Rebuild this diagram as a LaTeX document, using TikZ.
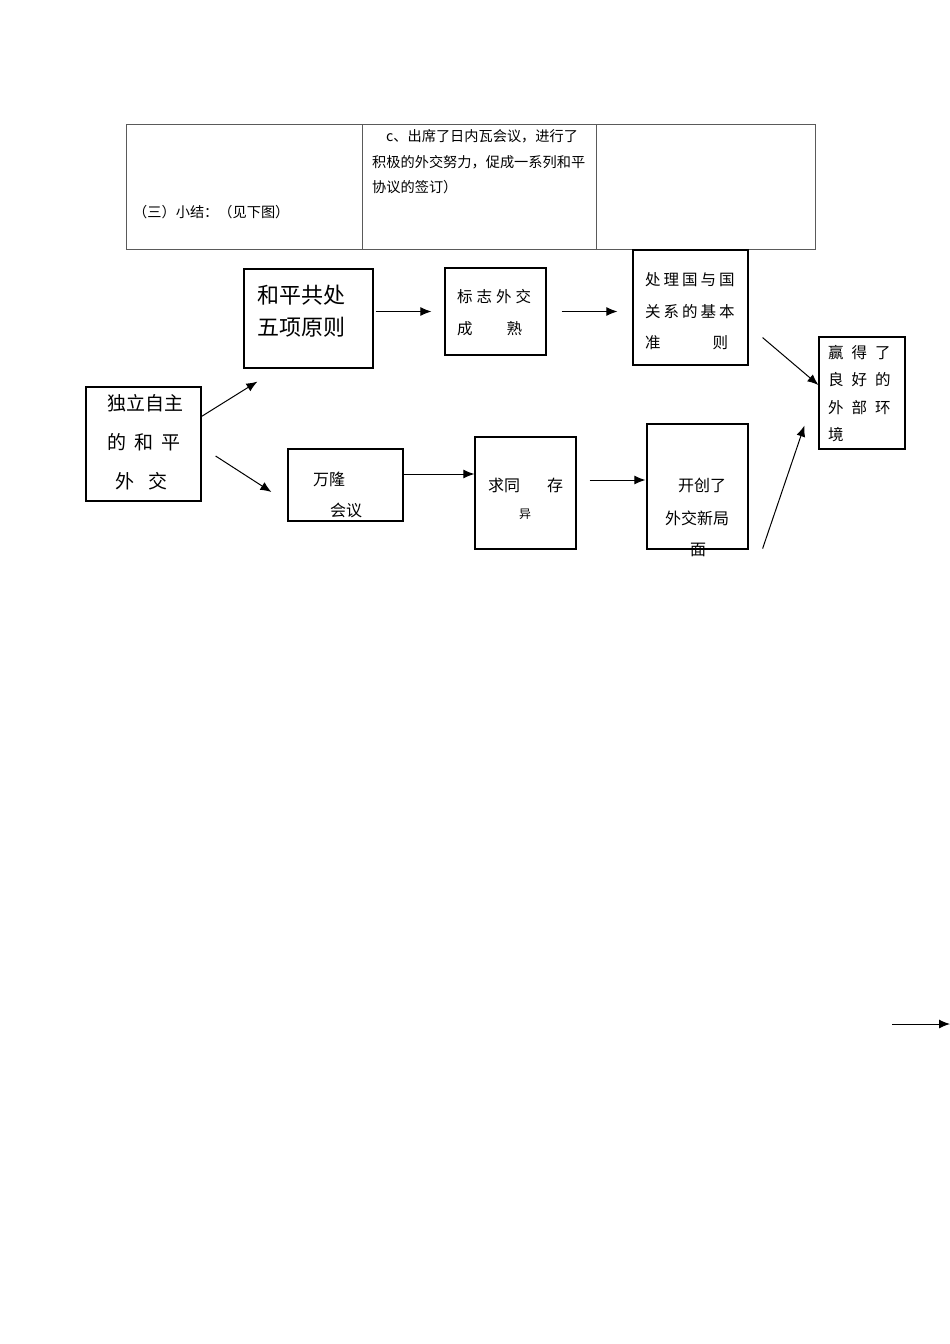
\documentclass[tikz,border=0pt]{standalone}
\usepackage{fontspec}
\setmainfont{Noto Sans CJK SC}
\usetikzlibrary{arrows.meta,calc}
\definecolor{tblgray}{RGB}{90,90,90}

\begin{document}
\begin{tikzpicture}[x=1pt,y=-1pt,
    box/.style={draw,line width=1.2pt,inner sep=0pt},
    txt/.style={anchor=west,inner sep=0pt},
    arr/.style={-{Latex[length=11pt,width=9pt]},line width=1pt},
    fa/.style={font=\fontsize{14.2pt}{16pt}\selectfont},
    fb/.style={font=\fontsize{15.5pt}{18pt}\selectfont},
    fc/.style={font=\fontsize{16pt}{18pt}\selectfont},
    fd/.style={font=\fontsize{19pt}{22pt}\selectfont},
    fe/.style={font=\fontsize{22pt}{25pt}\selectfont}]
  \useasboundingbox (0,0) rectangle (950,1344);
  % table on top
  \draw[tblgray,line width=1pt] (126,124) rectangle (815,249)
    (362,124) -- (362,249) (596,124) -- (596,249);
  \node[txt,fa] (sum) at (133,212) {（三）小结：（见下图）};
  \node[txt,fa] (gen1) at (386,136) {c、出席了日内瓦会议，进行了};
  \node[txt,fa] (gen2) at (372,162) {积极的外交努力，促成一系列和平};
  \node[txt,fa] (gen3) at (372,187) {协议的签订）};
  % boxes
  \node[box,minimum width=115pt,minimum height=114pt] (dl) at (143.5,444) {};
  \node[box,minimum width=129pt,minimum height=99pt] (hp) at (308.5,318.5) {};
  \node[box,minimum width=101pt,minimum height=87pt] (bz) at (495.5,311.5) {};
  \node[box,minimum width=115pt,minimum height=115pt] (cl) at (690.5,307.5) {};
  \node[box,minimum width=86pt,minimum height=112pt] (yd) at (862,393) {};
  \node[box,minimum width=115pt,minimum height=72pt] (wl) at (345.5,485) {};
  \node[box,minimum width=101pt,minimum height=112pt] (qt) at (525.5,493) {};
  \node[box,minimum width=101pt,minimum height=125pt] (kc) at (697.5,486.5) {};
  % box texts
  \node[txt,fd] (dl1) at (107,403) {独立自主};
  \node[txt,fd] (dl2) at (107,442) {的\hspace{8pt}和\hspace{8pt}平};
  \node[txt,fd] (dl3) at (115,481) {外\hspace{14pt}交};
  \node[txt,fe] (hp1) at (257,295) {和平共处};
  \node[txt,fe] (hp2) at (257,327) {五项原则};
  \node[txt,fb] (bz1) at (457,297) {标\hspace{4pt}志\hspace{4pt}外\hspace{4pt}交};
  \node[txt,fb] (bz2) at (457,329) {成\hspace{34pt}熟};
  \node[txt,fb] (cl1) at (645,280) {处\hspace{3pt}理\hspace{3pt}国\hspace{3pt}与\hspace{3pt}国};
  \node[txt,fb] (cl2) at (645,312) {关\hspace{3pt}系\hspace{3pt}的\hspace{3pt}基\hspace{3pt}本};
  \node[txt,fb] (cl3) at (645,343) {准\hspace{52pt}则};
  \node[txt,fb] (yd1) at (828,353) {赢\hspace{8pt}得\hspace{8pt}了};
  \node[txt,fb] (yd2) at (828,380) {良\hspace{8pt}好\hspace{8pt}的};
  \node[txt,fb] (yd3) at (828,408) {外\hspace{8pt}部\hspace{8pt}环};
  \node[txt,fb] (yd4) at (828,435) {境};
  \node[txt,fc] (wl1) at (313,479) {万隆};
  \node[txt,fc] (wl2) at (330,510) {会议};
  \node[txt,fc] (qt1) at (488,485) {求同\hspace{27pt}存};
  \node[txt,font=\fontsize{12pt}{14pt}\selectfont] (qt2) at (519,514) {异};
  \node[txt,fc] (kc1) at (678,485) {开创了};
  \node[txt,fc] (kc2) at (665,518) {外交新局};
  \node[txt,fc] (kc3) at (690,550) {面};
  % arrows
  \draw[arr] ($(dl.north east)+(0,30)$) -- ($(hp.south west)+(14,13)$);
  \draw[arr] ($(dl.east)+(14,12)$) -- ($(wl.west)+(-16,7)$);
  \draw[arr,shorten <=2pt,shorten >=13pt] (hp.east |- bz.west) -- (bz.west);
  \draw[arr,shorten <=15pt,shorten >=15pt] (bz.east) -- (bz.east -| cl.west);
  \draw[arr] ($(wl.east)+(0,-11)$) coordinate (w1) -- (w1 -| qt.west);
  \draw[arr,shorten <=13pt,shorten >=1pt] ($(qt.east)+(0,-13)$) coordinate (q1) -- (q1 -| kc.west);
  \draw[arr] ($(cl.south east)+(14,-28)$) -- ($(yd.west)+(0,-8)$);
  \draw[arr] ($(kc.south east)+(14,-1)$) -- ($(yd.south west)+(-14,-24)$);
  \coordinate (lone1) at (892,1024);
  \coordinate (lone2) at (950,1024);
  \draw[arr] (lone1) -- (lone2);
\end{tikzpicture}
\end{document}
